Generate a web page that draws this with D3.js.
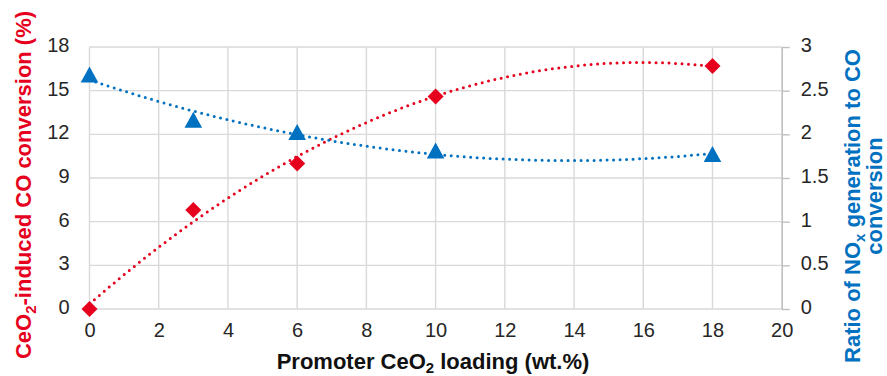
<!DOCTYPE html>
<html>
<head>
<meta charset="utf-8">
<script src="https://cdn.jsdelivr.net/npm/d3@7"></script>
<style>
  html, body { margin: 0; padding: 0; background: #fff; }
  svg { display: block; font-family: "Liberation Sans", Arial, sans-serif; }
</style>
</head>
<body>
<svg id="chart" width="887" height="376"></svg>
<script>
// CeO2 loading (wt.%)
const loading = [0, 3, 6, 10, 18];
// CeO2-induced CO conversion (%) — left axis
const coConversion = [0, 6.8, 10.0, 14.6, 16.7];
// Ratio of NOx generation to CO conversion — right axis
const noxRatio = [2.68, 2.16, 2.02, 1.81, 1.77];

const xTicks = [0, 2, 4, 6, 8, 10, 12, 14, 16, 18, 20];
const leftTicks = [0, 3, 6, 9, 12, 15, 18];
const rightTicks = [0, 0.5, 1, 1.5, 2, 2.5, 3];

const RED = "#E6001E";
const BLUE = "#0070C0";
const GRID = "#D9D9D9";
const TEXT = "#262626";

const svg = d3.select("#chart");

const x = d3.scaleLinear().domain([0, 20]).range([89.5, 781.7]);
const yL = d3.scaleLinear().domain([0, 18]).range([309, 47]);
const yR = d3.scaleLinear().domain([0, 3]).range([309, 47]);

// Gridlines
const grid = svg.append("g");
grid.selectAll("line.h").data(leftTicks).join("line")
  .attr("x1", x(0)).attr("x2", x(20))
  .attr("y1", d => yL(d)).attr("y2", d => yL(d))
  .attr("stroke", GRID).attr("stroke-width", 1.4);
grid.selectAll("line.v").data(xTicks.filter(d => d < 20)).join("line")
  .attr("x1", d => x(d)).attr("x2", d => x(d))
  .attr("y1", yL(0)).attr("y2", yL(18))
  .attr("stroke", GRID).attr("stroke-width", 1.4);

// Bottom axis labels
const xAxis = svg.append("g")
  .attr("transform", `translate(0,${yL(0)})`)
  .call(d3.axisBottom(x).tickValues(xTicks).tickSize(0).tickPadding(14).tickFormat(d => String(d)));
xAxis.select(".domain").remove();
xAxis.selectAll("text").attr("font-size", 20).attr("fill", TEXT)
  .attr("font-family", "Liberation Sans, Arial, sans-serif");

// Left axis labels
const leftAxis = svg.append("g")
  .attr("transform", `translate(${x(0)},0)`)
  .call(d3.axisLeft(yL).tickValues(leftTicks).tickSize(0).tickPadding(20).tickFormat(d => String(d)));
leftAxis.select(".domain").remove();
leftAxis.selectAll("text").attr("font-size", 20).attr("fill", TEXT).attr("dy", "0.22em")
  .attr("font-family", "Liberation Sans, Arial, sans-serif");

// Right axis with outward ticks
const rightAxis = svg.append("g")
  .attr("transform", `translate(${x(20)},0)`)
  .call(d3.axisRight(yR).tickValues(rightTicks).tickSizeInner(8).tickSizeOuter(0).tickPadding(11).tickFormat(d => String(d)));
rightAxis.select(".domain").attr("stroke", "#BFBFBF").attr("stroke-width", 1.6);
rightAxis.selectAll(".tick line").attr("stroke", "#BFBFBF").attr("stroke-width", 1.4);
rightAxis.selectAll("text").attr("font-size", 20).attr("fill", TEXT).attr("dy", "0.22em")
  .attr("font-family", "Liberation Sans, Arial, sans-serif");

// Least-squares polynomial trendline (order 2), as in spreadsheet trendlines
function polyFit(xs, ys, order) {
  const n = order + 1;
  const A = Array.from({length: n}, () => new Array(n + 1).fill(0));
  for (let r = 0; r < n; r++) {
    for (let c = 0; c < n; c++) A[r][c] = d3.sum(xs, v => Math.pow(v, r + c));
    A[r][n] = d3.sum(xs.map((v, i) => Math.pow(v, r) * ys[i]));
  }
  for (let i = 0; i < n; i++) {
    let p = i;
    for (let k = i + 1; k < n; k++) if (Math.abs(A[k][i]) > Math.abs(A[p][i])) p = k;
    [A[i], A[p]] = [A[p], A[i]];
    for (let k = i + 1; k < n; k++) {
      const f = A[k][i] / A[i][i];
      for (let j = i; j <= n; j++) A[k][j] -= f * A[i][j];
    }
  }
  const coef = new Array(n).fill(0);
  for (let i = n - 1; i >= 0; i--) {
    let s = A[i][n];
    for (let j = i + 1; j < n; j++) s -= A[i][j] * coef[j];
    coef[i] = s / A[i][i];
  }
  return v => coef.reduce((acc, c, i) => acc + c * Math.pow(v, i), 0);
}

const fitCO = polyFit(loading, coConversion, 2);
const fitNOx = polyFit(loading, noxRatio, 2);
const span = d3.range(0, 18.001, 0.1);

const lineL = d3.line().x(d => x(d)).y(d => yL(fitCO(d)));
const lineR = d3.line().x(d => x(d)).y(d => yR(fitNOx(d)));

svg.append("path").attr("d", lineL(span))
  .attr("fill", "none").attr("stroke", RED).attr("stroke-width", 3)
  .attr("stroke-linecap", "round").attr("stroke-dasharray", "0 6.5");
svg.append("path").attr("d", lineR(span))
  .attr("fill", "none").attr("stroke", BLUE).attr("stroke-width", 3)
  .attr("stroke-linecap", "round").attr("stroke-dasharray", "0 6.5");

// Markers
const diamond = "M0,-8L8,0L0,8L-8,0Z";
const triangle = "M0,-8.5L8.8,7.5L-8.8,7.5Z";

svg.append("g").selectAll("path").data(loading).join("path")
  .attr("d", triangle)
  .attr("transform", (d, i) => `translate(${x(d)},${yR(noxRatio[i])})`)
  .attr("fill", BLUE);

svg.append("g").selectAll("path").data(loading).join("path")
  .attr("d", diamond)
  .attr("transform", (d, i) => `translate(${x(d)},${yL(coConversion[i])})`)
  .attr("fill", RED);

// Axis titles
const xTitle = svg.append("text")
  .attr("x", 433).attr("y", 369)
  .attr("text-anchor", "middle")
  .attr("font-size", 22).attr("font-weight", "bold").attr("fill", "#111");
xTitle.append("tspan").text("Promoter CeO");
xTitle.append("tspan").attr("font-size", 15).attr("dy", 4).text("2");
xTitle.append("tspan").attr("dy", -4).text(" loading (wt.%)");

const lTitle = svg.append("text")
  .attr("transform", "translate(31,185) rotate(-90)")
  .attr("text-anchor", "middle")
  .attr("font-size", 22).attr("font-weight", "bold").attr("fill", RED);
lTitle.append("tspan").text("CeO");
lTitle.append("tspan").attr("font-size", 15).attr("dy", 5).text("2");
lTitle.append("tspan").attr("dy", -5).text("-induced CO conversion (%)");

const rTitle1 = svg.append("text")
  .attr("transform", "translate(860,206) rotate(-90)")
  .attr("text-anchor", "middle")
  .attr("font-size", 22).attr("font-weight", "bold").attr("fill", BLUE);
rTitle1.append("tspan").text("Ratio of NO");
rTitle1.append("tspan").attr("font-size", 15).attr("dy", 5).text("x");
rTitle1.append("tspan").attr("dy", -5).text(" generation to CO");

svg.append("text")
  .attr("transform", "translate(882,196) rotate(-90)")
  .attr("text-anchor", "middle")
  .attr("font-size", 22).attr("font-weight", "bold").attr("fill", BLUE)
  .text("conversion");
</script>
</body>
</html>
